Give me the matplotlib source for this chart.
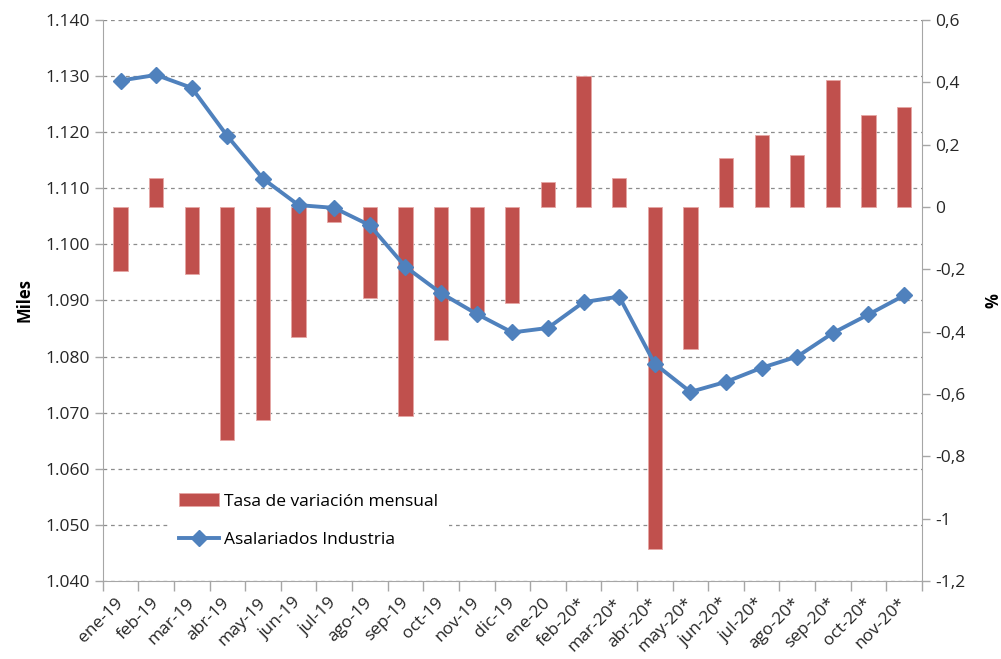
import numpy as np
import matplotlib
matplotlib.use('Agg')
import matplotlib.pyplot as plt
from matplotlib.ticker import FuncFormatter, FixedLocator

plt.rcParams['font.family'] = ['Open Sans', 'DejaVu Sans']

# Datos
meses = ['ene-19', 'feb-19', 'mar-19', 'abr-19', 'may-19', 'jun-19', 'jul-19',
         'ago-19', 'sep-19', 'oct-19', 'nov-19', 'dic-19', 'ene-20', 'feb-20*',
         'mar-20*', 'abr-20*', 'may-20*', 'jun-20*', 'jul-20*', 'ago-20*',
         'sep-20*', 'oct-20*', 'nov-20*']
asalariados = [1129.2, 1130.2, 1127.9, 1119.3, 1111.7, 1107.0, 1106.5, 1103.4,
               1096.0, 1091.3, 1087.6, 1084.3, 1085.1, 1089.7, 1090.7, 1078.7,
               1073.7, 1075.5, 1078.0, 1080.0, 1084.2, 1087.5, 1090.9]
tasa = [-0.207, 0.094, -0.216, -0.748, -0.683, -0.416, -0.049, -0.293, -0.670,
        -0.426, -0.342, -0.307, 0.079, 0.421, 0.092, -1.098, -0.457, 0.158,
        0.231, 0.168, 0.408, 0.294, 0.322]

x = np.arange(len(meses))
rojo = '#C0504D'
azul = '#4F81BD'
gris = '#A6A6A6'

fig = plt.figure(figsize=(10.01, 6.59), dpi=100)
ax = fig.add_axes([0.1026, 0.1184, 0.8184, 0.8513])   # eje izquierdo (grilla)
ax2 = ax.twinx()                                        # barras, eje derecho
ax3 = ax.twinx()                                        # linea, escala izquierda

ax.set_zorder(0)
ax2.set_zorder(1)
ax3.set_zorder(2)
ax2.patch.set_visible(False)
ax3.patch.set_visible(False)

# Eje izquierdo
ax.set_xlim(-0.5, len(meses) - 0.5)
ax.set_ylim(1040, 1140)
ax.set_yticks(np.arange(1040, 1141, 10))
ax.yaxis.set_major_formatter(FuncFormatter(lambda v, p: f'{v:,.0f}'.replace(',', '.')))
ax.grid(axis='y', color='#8C8C8C', linestyle=(0, (3, 3)), linewidth=0.9)
ax.set_ylabel('Miles', fontweight='bold', fontsize=12, labelpad=8)

# Eje derecho
ax2.bar(x, tasa, width=0.4, color=rojo, edgecolor='#E6A6A4', linewidth=0.6,
        label='Tasa de variación mensual')
ax2.set_ylim(-1.2, 0.6)
ax2.set_yticks(np.arange(-1.2, 0.61, 0.2))
ax2.yaxis.set_major_formatter(FuncFormatter(
    lambda v, p: '0' if abs(v) < 1e-9 else f'{v:g}'.replace('.', ',')))
ax2.set_ylabel('%', fontweight='bold', fontsize=12, labelpad=14)

# Linea
ax3.plot(x, asalariados, color=azul, linewidth=2.8, marker='D', markersize=8,
         label='Asalariados Industria')
ax3.set_ylim(ax.get_ylim())
ax3.set_yticks([])
for s in ax3.spines.values():
    s.set_visible(False)

# Estilo de ejes
for a in (ax, ax2):
    a.spines['top'].set_visible(False)
    a.spines['left'].set_color(gris)
    a.spines['right'].set_color(gris)
    a.spines['bottom'].set_color(gris)
    a.tick_params(axis='y', colors=gris, labelcolor='#262626', labelsize=12.5,
                  length=6, width=1)
ax2.spines['left'].set_visible(False)
ax.spines['right'].set_visible(False)
ax2.spines['bottom'].set_visible(False)

ax.set_xticks(x)
ax.set_xticklabels(meses, rotation=45, ha='right', va='center',
                   rotation_mode='anchor', fontsize=12.5, color='#262626')
ax.tick_params(axis='x', which='major', length=0, pad=14)
ax.xaxis.set_minor_locator(FixedLocator(np.arange(-0.5, len(meses), 1)))
ax.tick_params(axis='x', which='minor', length=7, color=gris, width=1)

h2, l2 = ax2.get_legend_handles_labels()
h3, l3 = ax3.get_legend_handles_labels()
leg = ax3.legend(h2 + h3, l2 + l3, loc='upper left', bbox_to_anchor=(0.07, 0.19),
                 frameon=True, facecolor='white', edgecolor='none', framealpha=1,
                 fontsize=12.5, handlelength=2.3, handletextpad=0.3,
                 labelspacing=1.3, borderpad=0.6)

plt.savefig('out.png', dpi=100)
